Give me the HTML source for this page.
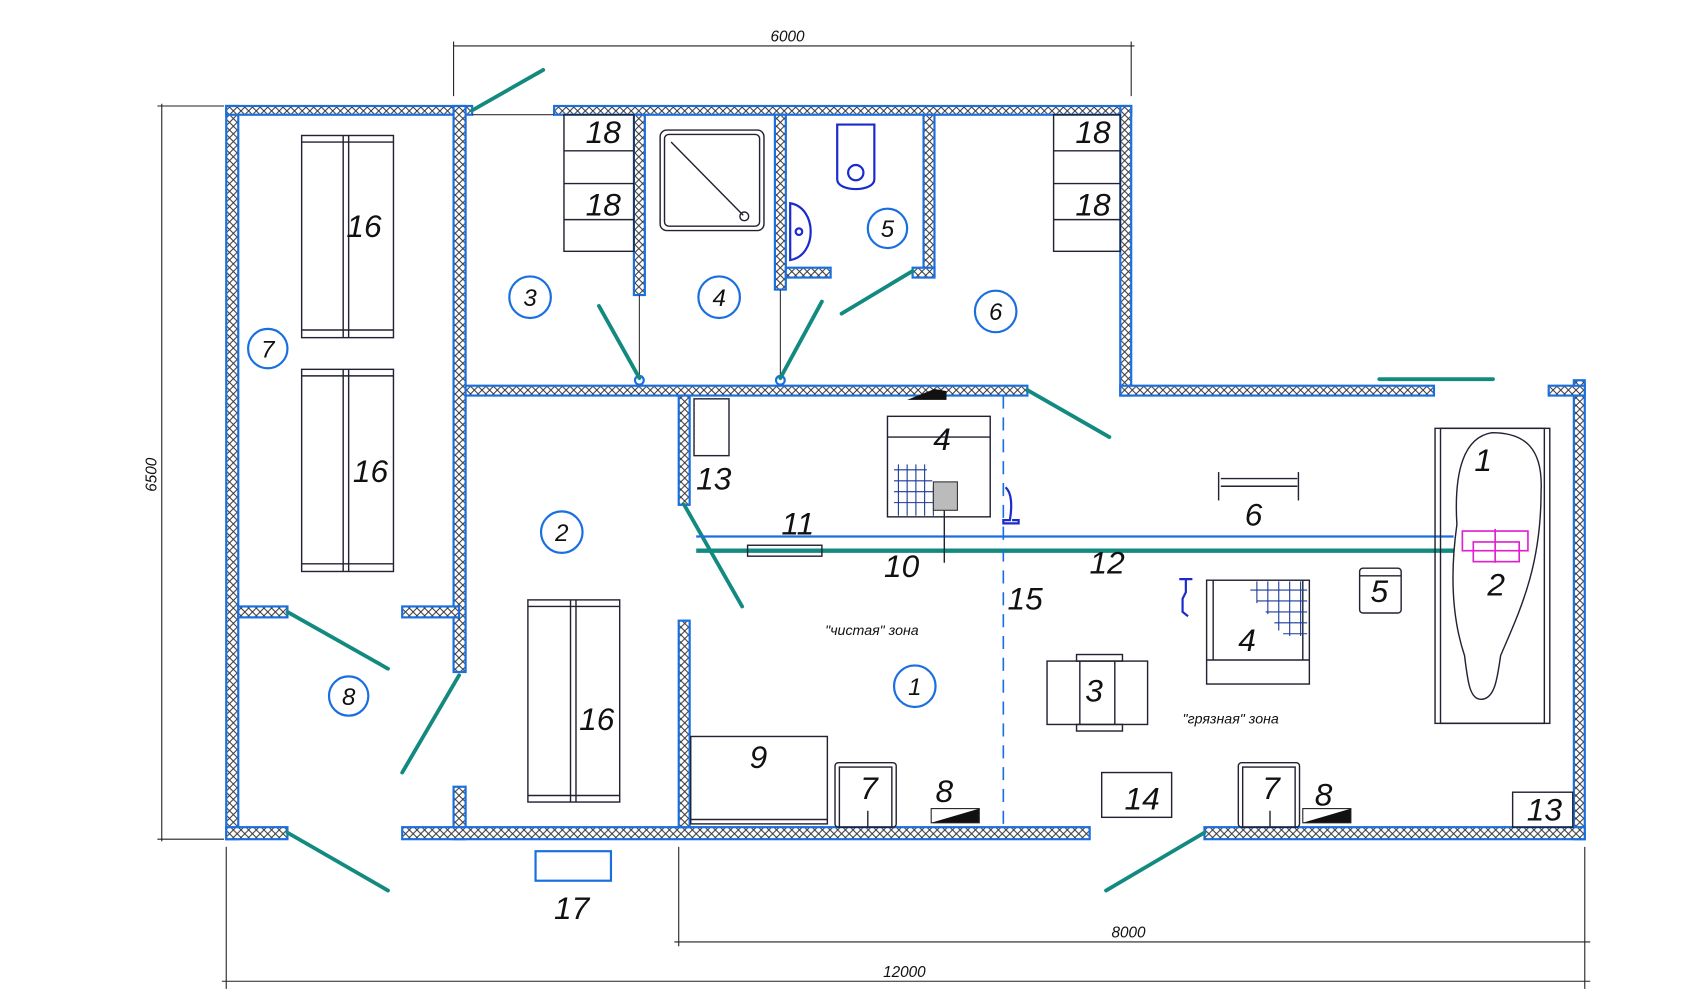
<!DOCTYPE html>
<html><head><meta charset="utf-8"><style>
html,body{margin:0;padding:0;background:#fff}
svg{display:block}
text{font-family:"Liberation Sans",sans-serif;font-style:italic;fill:#111}
</style></head><body>
<svg width="1705" height="1002" viewBox="0 0 1560 917" preserveAspectRatio="none" xmlns="http://www.w3.org/2000/svg">
<defs>
<pattern id="h" width="7" height="7" patternUnits="userSpaceOnUse">
<rect width="7" height="7" fill="#fff"/>
<path d="M0 0L7 7M7 0L0 7" stroke="#333" stroke-width="0.9"/>
</pattern>
</defs>
<rect width="1560" height="917" fill="#fff"/>
<g fill="url(#h)" stroke="#1a6fe0" stroke-width="2">
<rect x="207" y="97" width="11" height="671"/>
<rect x="207" y="97" width="225" height="8"/>
<rect x="507" y="97" width="528" height="8"/>
<rect x="415" y="97" width="11" height="518"/>
<rect x="415" y="720" width="11" height="48"/>
<rect x="426" y="353" width="514" height="9"/>
<rect x="1025" y="97" width="10" height="265"/>
<rect x="1025" y="353" width="287" height="9"/>
<rect x="1440" y="348" width="10" height="420"/>
<rect x="1417" y="353" width="33" height="9"/>
<rect x="207" y="757" width="56" height="11"/>
<rect x="368" y="757" width="629" height="11"/>
<rect x="1102" y="757" width="348" height="11"/>
<rect x="218" y="555" width="45" height="10"/>
<rect x="368" y="555" width="52" height="10"/>
<rect x="580" y="105" width="10" height="165"/>
<rect x="709" y="105" width="10" height="160"/>
<rect x="719" y="245" width="41" height="9"/>
<rect x="845" y="105" width="10" height="148"/>
<rect x="835" y="245" width="20" height="9"/>
<rect x="621" y="362" width="10" height="100"/>
<rect x="621" y="568" width="10" height="189"/>
</g>
<g stroke="#333" stroke-width="1" fill="none">
<line x1="432" y1="105" x2="507" y2="105"/>
<line x1="585" y1="270" x2="585" y2="345"/>
<line x1="714" y1="265" x2="714" y2="345"/>
<circle cx="585" cy="348" r="4" stroke="#1a6fe0" stroke-width="2"/>
<circle cx="714" cy="348" r="4" stroke="#1a6fe0" stroke-width="2"/>
</g>
<!-- doors -->
<g stroke="#128a80" stroke-width="3.5" stroke-linecap="round">
<line x1="432" y1="101" x2="497" y2="64"/>
<line x1="548" y1="280" x2="585" y2="346"/>
<line x1="752" y1="276" x2="714" y2="346"/>
<line x1="770" y1="287" x2="835" y2="248"/>
<line x1="940" y1="357" x2="1015" y2="400"/>
<line x1="1262" y1="347" x2="1366" y2="347"/>
<line x1="626" y1="462" x2="679" y2="555"/>
<line x1="263" y1="560" x2="355" y2="612"/>
<line x1="420" y1="618" x2="368" y2="707"/>
<line x1="263" y1="762" x2="355" y2="815"/>
<line x1="1102" y1="762" x2="1012" y2="815"/>
</g>
<line x1="637" y1="491" x2="1330" y2="491" stroke="#1a6fe0" stroke-width="2"/>
<line x1="637" y1="504" x2="1330" y2="504" stroke="#128a80" stroke-width="4"/>
<line x1="918" y1="362" x2="918" y2="757" stroke="#1a6fe0" stroke-width="1.5" stroke-dasharray="12,8"/>
<!-- dims -->
<g stroke="#222" stroke-width="1" fill="none">
<line x1="415" y1="42" x2="1038" y2="42"/><line x1="415" y1="38" x2="415" y2="88"/><line x1="1035" y1="38" x2="1035" y2="88"/>
<line x1="148" y1="95" x2="148" y2="770"/><line x1="144" y1="97" x2="205" y2="97"/><line x1="144" y1="768" x2="205" y2="768"/>
<line x1="617" y1="862" x2="1455" y2="862"/><line x1="621" y1="775" x2="621" y2="866"/><line x1="1450" y1="775" x2="1450" y2="905"/>
<line x1="203" y1="898" x2="1455" y2="898"/><line x1="207" y1="775" x2="207" y2="905"/>
</g>
<g font-size="14">
<text x="705" y="38">6000</text>
<text x="1017" y="858">8000</text>
<text x="808" y="894">12000</text>
<text x="0" y="0" transform="translate(143,450) rotate(-90)">6500</text>
</g>
<!-- furniture -->
<g stroke="#223" stroke-width="1.3" fill="none">
<rect x="276" y="124" width="84" height="185"/><line x1="276" y1="130" x2="360" y2="130"/><line x1="276" y1="302" x2="360" y2="302"/><line x1="314" y1="124" x2="314" y2="309"/><line x1="319" y1="124" x2="319" y2="309"/>
<rect x="276" y="338" width="84" height="185"/><line x1="276" y1="344" x2="360" y2="344"/><line x1="276" y1="516" x2="360" y2="516"/><line x1="314" y1="338" x2="314" y2="523"/><line x1="319" y1="338" x2="319" y2="523"/>
<rect x="483" y="549" width="84" height="185"/><line x1="483" y1="555" x2="567" y2="555"/><line x1="483" y1="728" x2="567" y2="728"/><line x1="522" y1="549" x2="522" y2="734"/><line x1="527" y1="549" x2="527" y2="734"/>
<rect x="516" y="105" width="64" height="125"/><line x1="516" y1="138" x2="580" y2="138"/><line x1="516" y1="168" x2="580" y2="168"/><line x1="516" y1="201" x2="580" y2="201"/>
<rect x="964" y="105" width="61" height="125"/><line x1="964" y1="138" x2="1025" y2="138"/><line x1="964" y1="168" x2="1025" y2="168"/><line x1="964" y1="201" x2="1025" y2="201"/>
<rect x="604" y="119" width="95" height="92" rx="6"/><rect x="608" y="123" width="87" height="84" rx="4"/><line x1="614" y1="130" x2="680" y2="197"/><circle cx="681" cy="198" r="4"/>
<rect x="635" y="365" width="32" height="52"/>
<rect x="812" y="381" width="94" height="92"/><line x1="812" y1="400" x2="906" y2="400"/>
<rect x="1104" y="531" width="94" height="95"/><line x1="1104" y1="604" x2="1198" y2="604"/><line x1="1110" y1="531" x2="1110" y2="604"/><line x1="1192" y1="531" x2="1192" y2="604"/>
<line x1="1117" y1="438" x2="1187" y2="438"/><line x1="1117" y1="445" x2="1187" y2="445"/><line x1="1115" y1="432" x2="1115" y2="458"/><line x1="1188" y1="432" x2="1188" y2="458"/>
<rect x="1244" y="520" width="38" height="41" rx="3"/><line x1="1244" y1="527" x2="1282" y2="527"/>
<rect x="1313" y="392" width="105" height="270"/><rect x="1318" y="392" width="95" height="270"/>
<path d="M1365 396 C1340 400 1330 430 1333 480 C1326 530 1330 570 1340 600 C1343 625 1345 640 1355 640 C1368 640 1370 620 1373 600 C1390 560 1410 520 1410 450 C1412 410 1395 396 1365 396Z"/>
<rect x="958" y="605" width="92" height="58"/><line x1="988" y1="605" x2="988" y2="663"/><line x1="1020" y1="605" x2="1020" y2="663"/><rect x="985" y="599" width="42" height="6"/><rect x="985" y="663" width="42" height="6"/>
<rect x="632" y="674" width="125" height="80"/><line x1="632" y1="750" x2="757" y2="750"/>
<rect x="764" y="698" width="56" height="59" rx="3"/><rect x="768" y="702" width="48" height="55"/><line x1="794" y1="742" x2="794" y2="757"/>
<rect x="1133" y="698" width="56" height="59" rx="3"/><rect x="1137" y="702" width="48" height="55"/><line x1="1162" y1="742" x2="1162" y2="757"/>
<rect x="1008" y="707" width="64" height="41"/>
<rect x="1384" y="725" width="55" height="32"/>
<rect x="684" y="499" width="68" height="10"/>
<rect x="490" y="779" width="69" height="27" stroke="#1a6fe0" stroke-width="2"/>
<line x1="864" y1="455" x2="864" y2="515"/>
</g>
<g stroke="#1a3a9a" stroke-width="1" fill="none">
<path d="M818 430h30M818 440h35M818 450h40M818 460h45M822 425v47M830 425v47M838 425v47M846 425v47M854 445v27M1144 540h52M1150 550h46M1158 560h38M1166 570h30M1174 580h22M1150 532v20M1160 532v30M1170 532v45M1180 532v50M1190 532v50"/>
</g>
<rect x="854" y="441" width="22" height="26" fill="#bbb" stroke="#333"/>
<polygon points="852,753 896,740 896,753" fill="#111"/>
<rect x="852" y="740" width="44" height="13" fill="none" stroke="#222"/>
<polygon points="1192,753 1236,740 1236,753" fill="#111"/>
<rect x="1192" y="740" width="44" height="13" fill="none" stroke="#222"/>
<polygon points="830,366 866,366 866,358 855,356" fill="#111"/>
<g stroke="#1a2acc" stroke-width="2" fill="none">
<path d="M766 114h34v50c0 12-34 12-34 0z"/><circle cx="783" cy="158" r="7"/>
<path d="M723 186c25 4 25 48 0 52z"/><circle cx="731" cy="212" r="3"/>
<path d="M920 446c6 5 6 18 4 30h-6v3h14v-3h-6"/>
<path d="M1079 530h12M1085 530v12l-3 6v12l5 4"/>
</g>
<g stroke="#e020d0" stroke-width="1.5" fill="none">
<rect x="1338" y="486" width="60" height="18"/><rect x="1348" y="496" width="42" height="18"/><line x1="1368" y1="484" x2="1368" y2="515"/>
</g>
<!-- circles -->
<g stroke="#1a6fe0" stroke-width="2" fill="none">
<circle cx="245" cy="319" r="18"/><circle cx="319" cy="637" r="18"/><circle cx="485" cy="272" r="19"/><circle cx="658" cy="272" r="19"/><circle cx="812" cy="209" r="18"/><circle cx="911" cy="285" r="19"/><circle cx="514" cy="487" r="19"/><circle cx="837" cy="628" r="19"/>
</g>
<g font-size="22" text-anchor="middle">
<text x="245" y="327">7</text><text x="319" y="645">8</text><text x="485" y="280">3</text><text x="658" y="280">4</text><text x="812" y="217">5</text><text x="911" y="293">6</text><text x="514" y="495">2</text><text x="837" y="636">1</text>
</g>
<g font-size="29" text-anchor="middle">
<text x="333" y="217">16</text><text x="339" y="441">16</text><text x="546" y="668">16</text>
<text x="552" y="131">18</text><text x="552" y="197">18</text><text x="1000" y="131">18</text><text x="1000" y="197">18</text>
<text x="653" y="448">13</text><text x="862" y="412">4</text><text x="730" y="489">11</text><text x="825" y="528">10</text><text x="1013" y="525">12</text><text x="938" y="558">15</text>
<text x="1147" y="481">6</text><text x="1357" y="431">1</text><text x="1369" y="545">2</text><text x="1262" y="551">5</text><text x="1141" y="596">4</text><text x="1001" y="642">3</text>
<text x="694" y="703">9</text><text x="795" y="731">7</text><text x="864" y="734">8</text><text x="1163" y="731">7</text><text x="1211" y="737">8</text><text x="1045" y="741">14</text><text x="1413" y="751">13</text><text x="523" y="841">17</text>
</g>
<g font-size="13"><text x="755" y="581">"чистая" зона</text><text x="1082" y="662">"грязная" зона</text></g>
</svg>
</body></html>
